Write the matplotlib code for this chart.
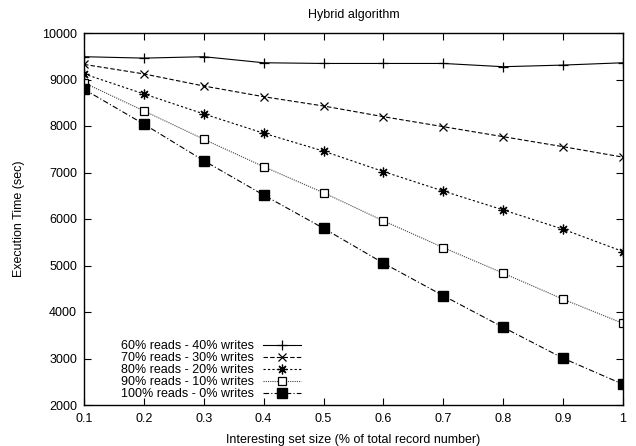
import matplotlib
matplotlib.use("Agg")
import matplotlib.pyplot as plt

plt.rcParams['font.family'] = ['Liberation Sans', 'DejaVu Sans']

x = [0.1, 0.2, 0.3, 0.4, 0.5, 0.6, 0.7, 0.8, 0.9, 1.0]
s60 = [9490, 9460, 9490, 9360, 9345, 9345, 9345, 9275, 9310, 9360]
s70 = [9325, 9120, 8860, 8630, 8430, 8200, 7985, 7770, 7555, 7330]
s80 = [9120, 8690, 8260, 7845, 7460, 7020, 6600, 6195, 5780, 5300]
s90 = [8930, 8325, 7715, 7125, 6565, 5960, 5385, 4835, 4275, 3755]
s100 = [8790, 8040, 7255, 6515, 5800, 5050, 4350, 3670, 3005, 2445]
labels = ["60% reads - 40% writes", "70% reads - 30% writes",
          "80% reads - 20% writes", "90% reads - 10% writes",
          "100% reads - 0% writes"]
xticks = [0.1, 0.2, 0.3, 0.4, 0.5, 0.6, 0.7, 0.8, 0.9, 1.0]
xticklabels = ["0.1", "0.2", "0.3", "0.4", "0.5", "0.6", "0.7", "0.8", "0.9", "1"]
yticks = [2000, 3000, 4000, 5000, 6000, 7000, 8000, 9000, 10000]

fig = plt.figure(figsize=(6.36, 4.46), dpi=100)
ax = fig.add_axes([84/636, 1 - 405/446, (623-84)/636, (405-33)/446])

lw = 0.8
ax.plot(x, s60, color='black', lw=lw, ls='-', marker='+', ms=6.5, mew=0.9, label=labels[0])
ax.plot(x, s70, color='black', lw=lw, ls=(0, (4, 2)), marker='x', ms=6.3, mew=0.9, label=labels[1])
ax.plot(x, s80, color='black', lw=lw, ls=(0, (2, 2)), marker=(8, 2, 0), ms=7, mew=0.9, label=labels[2])
ax.plot(x, s90, color='#444444', lw=lw, ls=(0, (1, 1)), marker='s', ms=6.3, mfc='white', mec='black', mew=0.9, label=labels[3])
ax.plot(x, s100, color='black', lw=lw, ls=(0, (5, 2, 1, 2)), marker='s', ms=6.5, mfc='black', mec='black', label=labels[4])

ax.set_xlim(0.1, 1.0)
ax.set_ylim(2000, 10000)
ax.set_xticks(xticks)
ax.set_xticklabels(xticklabels)
ax.set_yticks(yticks)
ax.tick_params(direction='in', top=True, right=True, length=5, width=0.8, labelsize=9)
ax.tick_params(axis='x', pad=6)
ax.tick_params(axis='y', pad=5)
for sp in ax.spines.values():
    sp.set_linewidth(1.0)

ax.set_title("Hybrid algorithm", fontsize=9, pad=11)
ax.set_xlabel("Interesting set size (% of total record number)", fontsize=9, labelpad=6)
ax.set_ylabel("Execution Time (sec)", fontsize=9, labelpad=12)

leg = ax.legend(loc='lower left', bbox_to_anchor=(0.06, 0.0), frameon=False,
                fontsize=9, markerfirst=False, handlelength=3.0,
                labelspacing=0.0, handletextpad=0.7, borderaxespad=0.0)

fig.savefig("out.png", dpi=100)
